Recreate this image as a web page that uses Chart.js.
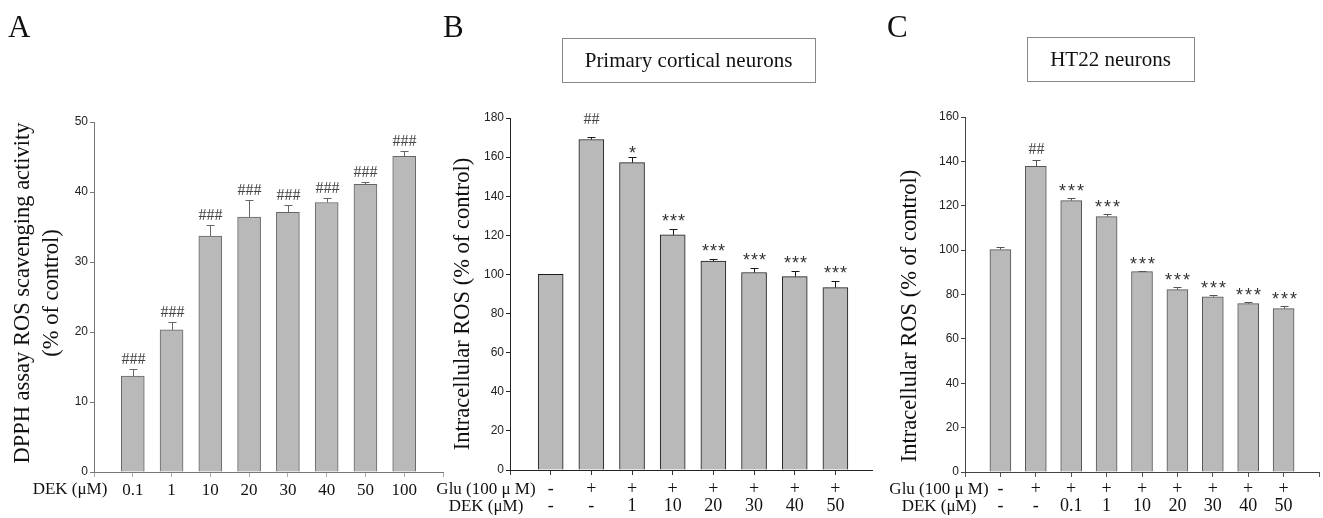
<!DOCTYPE html>
<html>
<head>
<meta charset="utf-8">
<script src="https://cdn.jsdelivr.net/npm/chart.js@4.4.1/dist/chart.umd.min.js"></script>
<style>
  body { margin: 0; background: #fff; }
  #wrap { position: relative; width: 1323px; height: 518px; }
  #wrap canvas { position: absolute; left: 0; top: 0; }
</style>
</head>
<body>
<div id="wrap">
  <canvas id="chartA" width="1323" height="518"></canvas>
  <canvas id="chartB" width="1323" height="518"></canvas>
  <canvas id="chartC" width="1323" height="518"></canvas>
</div>
<script>
// panel A - DPPH assay
const dekA = ["0.1", "1", "10", "20", "30", "40", "50", "100"];
const meanA = [13.7, 20.3, 33.7, 36.4, 37.1, 38.5, 41.1, 45.1];
const errA = [1.0, 1.2, 1.6, 2.5, 1.0, 0.7, 0.3, 0.8];
const markA = ["###", "###", "###", "###", "###", "###", "###", "###"];

// panel B - primary cortical neurons
const gluB = ["-", "+", "+", "+", "+", "+", "+", "+"];
const dekB = ["-", "-", "1", "10", "20", "30", "40", "50"];
const meanB = [100, 169, 157.2, 120.2, 106.8, 101.0, 98.9, 93.3];
const errB = [0.3, 1.1, 3.1, 3.1, 1.3, 2.2, 3.1, 3.4];
const markB = ["", "##", "*", "***", "***", "***", "***", "***"];

// panel C - HT22 neurons
const gluC = ["-", "+", "+", "+", "+", "+", "+", "+", "+"];
const dekC = ["-", "-", "0.1", "1", "10", "20", "30", "40", "50"];
const meanC = [100.2, 137.8, 122.3, 115.1, 90.3, 82.2, 79.0, 75.9, 73.6];
const errC = [1.2, 2.7, 1.3, 1.2, 0.4, 1.0, 0.6, 0.7, 1.2];
const markC = ["", "##", "***", "***", "***", "***", "***", "***", "***"];

const W = 1323, H = 518;
const serif = "'Liberation Serif', 'Times New Roman', serif";
const sans = "'Liberation Sans', Arial, sans-serif";

function extrasPlugin(p) {
    return {
        id: 'extras',
        afterDatasetsDraw(chart) {
            const ctx = chart.ctx;
            const xs = chart.scales.x, ys = chart.scales.y;
            ctx.save();
            // error bars
            ctx.strokeStyle = p.edge;
            ctx.lineWidth = 1;
            p.means.forEach((v, i) => {
                let px = Math.round(xs.getPixelForValue(i + 1)) + 0.5;
                let y0 = ys.getPixelForValue(v);
                let y1 = Math.round(ys.getPixelForValue(v + p.errs[i])) + 0.5;
                ctx.beginPath();
                ctx.moveTo(px, y0);
                ctx.lineTo(px, y1);
                ctx.moveTo(px - 4, y1);
                ctx.lineTo(px + 4, y1);
                ctx.stroke();

                let m = p.marks[i];
                if (!m) return;
                ctx.textAlign = 'center';
                ctx.textBaseline = 'alphabetic';
                if (m[0] === '#') {
                    ctx.fillStyle = '#444';
                    ctx.font = '16px ' + serif;
                    ctx.fillText(m, px, y1 - p.hashGap);
                } else {
                    ctx.fillStyle = '#333';
                    ctx.font = '18px ' + sans;
                    let gap = m.length === 1 ? p.oneStarGap : p.starGap;
                    for (let k = 0; k < m.length; k++) {
                        let off = (k - (m.length - 1) / 2) * p.starSp;
                        ctx.fillText('*', px + off, y1 - gap + 7);
                    }
                }
            });
            ctx.restore();
        },
        afterDraw(chart) {
            const ctx = chart.ctx;
            ctx.save();
            ctx.fillStyle = '#111';
            // panel letter
            ctx.font = '31px ' + serif;
            ctx.textAlign = 'left';
            ctx.textBaseline = 'alphabetic';
            ctx.fillText(p.letter, p.letterX, 37);
            // boxed title
            if (p.box) {
                let b = p.box;
                ctx.strokeStyle = '#888';
                ctx.lineWidth = 1;
                ctx.strokeRect(b.x + 0.5, b.y + 0.5, b.w, b.h);
                ctx.font = b.size + 'px ' + serif;
                ctx.textAlign = 'center';
                ctx.textBaseline = 'middle';
                ctx.fillText(b.text, b.x + b.w / 2, b.y + b.h / 2 + 1);
            }
            // y axis title
            ctx.font = '22.5px ' + serif;
            ctx.textAlign = 'center';
            ctx.textBaseline = 'middle';
            p.yTitle.forEach((t, k) => {
                ctx.save();
                ctx.translate(p.yTitleX[k], p.yTitleY);
                ctx.rotate(-Math.PI / 2);
                ctx.fillText(t, 0, 0);
                ctx.restore();
            });
            // row headers below the axis
            ctx.font = p.headFont + 'px ' + serif;
            p.rowHeads.forEach((t, k) => {
                ctx.fillText(t, p.rowHeadX, p.rowY[k]);
            });
            ctx.restore();
        }
    };
}

function makePanel(id, p) {
    const pts = p.means.map((v, i) => ({ x: i + 1, y: v }));
    const area = p.area; // left, right, top, bottom
    const xH = H - area[3];
    return new Chart(document.getElementById(id), {
        type: 'bar',
        data: {
            datasets: [{
                data: pts,
                backgroundColor: '#b9b9b9',
                borderColor: p.edge,
                borderWidth: 1,
                barThickness: p.barW
            }]
        },
        options: {
            responsive: false,
            animation: false,
            layout: {
                padding: { left: area[0] - 40, right: W - area[1], top: area[2], bottom: 0 }
            },
            plugins: { legend: { display: false }, tooltip: { enabled: false } },
            scales: {
                x: {
                    type: 'linear', min: 0, max: p.xMax, offset: false,
                    afterFit(s) { s.height = xH; },
                    ticks: {
                        stepSize: 1, includeBounds: false, autoSkip: false, maxRotation: 0,
                        padding: p.xPad, color: '#111',
                        font: { family: serif, size: p.xFont, lineHeight: 0.95 },
                        callback: v => {
                            let i = v - 1;
                            if (i < 0 || i >= p.dek.length || v % 1 !== 0) return '';
                            return p.glu ? [p.glu[i], p.dek[i]] : p.dek[i];
                        }
                    },
                    grid: { offset: false, drawOnChartArea: false, tickLength: 5, color: p.tickCol },
                    border: { color: p.axisCol }
                },
                y: {
                    min: 0, max: p.yMax,
                    afterFit(s) { s.width = 40; },
                    ticks: { stepSize: p.yStep, padding: 2, color: '#222', font: { family: sans, size: 12 } },
                    grid: { drawOnChartArea: false, tickLength: 4, color: p.axisCol },
                    border: { color: p.axisCol }
                }
            }
        },
        plugins: [extrasPlugin(p)]
    });
}

makePanel('chartA', {
    means: meanA, errs: errA, marks: markA, dek: dekA, glu: null,
    area: [94, 443, 122, 472], xMax: 9, yMax: 50, yStep: 10, barW: 23,
    edge: '#666', axisCol: '#777', tickCol: '#aaa',
    xFont: 17, headFont: 17, xPad: 5, hashGap: 6, starGap: 0, oneStarGap: 0, starSp: 8,
    letter: 'A', letterX: 8,
    yTitle: ['DPPH assay ROS scavenging activity', '(% of control)'], yTitleX: [23, 52], yTitleY: 293,
    rowHeads: ['DEK (\u03bcM)'], rowHeadX: 70, rowY: [490]
});

makePanel('chartB', {
    means: meanB, errs: errB, marks: markB, dek: dekB, glu: gluB,
    area: [510, 872, 118, 470], xMax: 8.9, yMax: 180, yStep: 20, barW: 25,
    edge: '#1a1a1a', axisCol: '#222', tickCol: '#333',
    xFont: 18, headFont: 17, xPad: 6, hashGap: 14, starGap: 10, oneStarGap: 6, starSp: 8,
    letter: 'B', letterX: 443,
    box: { x: 562, y: 38, w: 253, h: 44, text: 'Primary cortical neurons', size: 21 },
    yTitle: ['Intracellular ROS (% of control)'], yTitleX: [463], yTitleY: 304,
    rowHeads: ['Glu (100 \u03bc M)', 'DEK (\u03bcM)'], rowHeadX: 486, rowY: [490, 507]
});

makePanel('chartC', {
    means: meanC, errs: errC, marks: markC, dek: dekC, glu: gluC,
    area: [965, 1320, 117, 472], xMax: 10, yMax: 160, yStep: 20, barW: 21,
    edge: '#555', axisCol: '#444', tickCol: '#555',
    xFont: 18, headFont: 17, xPad: 4, hashGap: 7, starGap: 9, oneStarGap: 6, starSp: 9,
    letter: 'C', letterX: 887,
    box: { x: 1027, y: 37, w: 167, h: 44, text: 'HT22 neurons', size: 21 },
    yTitle: ['Intracellular ROS (% of control)'], yTitleX: [910], yTitleY: 316,
    rowHeads: ['Glu (100 \u03bc M)', 'DEK (\u03bcM)'], rowHeadX: 939, rowY: [490, 507]
});
</script>
</body>
</html>
